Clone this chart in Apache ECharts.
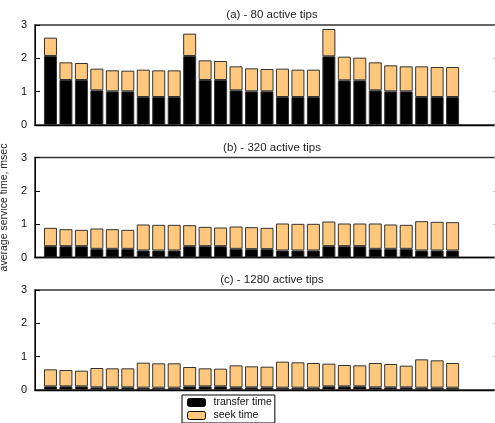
<!DOCTYPE html>
<html>
<head>
<meta charset="utf-8">
<script src="https://cdn.jsdelivr.net/npm/echarts@6/dist/echarts.min.js"></script>
<style>html,body{margin:0;padding:0;background:#fff}#c{width:495px;height:423px}</style>
</head>
<body>
<div id="c"></div>
<script>
var titles = ['(a) - 80 active tips', '(b) - 320 active tips', '(c) - 1280 active tips'];
var yTicks = [0, 1, 2, 3];
var slotCount = 31; // axis slots: slot 0 = left axis, bars in slots 1..27
var transferA = [2.07,1.35,1.35,1.04,1.01,1.01,0.84,0.84,0.84, 2.07,1.35,1.35,1.04,1.01,1.01,0.84,0.84,0.84, 2.06,1.34,1.34,1.04,1.01,1.01,0.84,0.84,0.84];
var seekA     = [0.55,0.53,0.51,0.65,0.63,0.62,0.82,0.80,0.80, 0.67,0.59,0.57,0.72,0.69,0.67,0.85,0.82,0.82, 0.82,0.71,0.68,0.84,0.78,0.75,0.92,0.90,0.90];
var transferB = [0.34,0.34,0.34,0.26,0.26,0.26,0.21,0.21,0.21, 0.34,0.34,0.34,0.26,0.25,0.25,0.21,0.21,0.21, 0.34,0.34,0.34,0.26,0.26,0.26,0.21,0.21,0.21];
var seekB     = [0.55,0.51,0.49,0.61,0.59,0.57,0.78,0.77,0.77, 0.63,0.58,0.56,0.67,0.66,0.64,0.81,0.80,0.80, 0.74,0.68,0.68,0.76,0.73,0.72,0.88,0.86,0.85];
var transferC = [0.11,0.11,0.11,0.08,0.08,0.08,0.07,0.07,0.07, 0.11,0.11,0.11,0.08,0.08,0.08,0.07,0.07,0.07, 0.11,0.11,0.11,0.08,0.08,0.08,0.07,0.07,0.07];
var seekC     = [0.51,0.49,0.47,0.58,0.57,0.57,0.75,0.73,0.73, 0.58,0.54,0.53,0.66,0.63,0.62,0.78,0.76,0.74, 0.68,0.64,0.63,0.73,0.70,0.65,0.85,0.82,0.74];
var seriesNames = ['transfer time', 'seek time'];
var yLabel = 'average service time, msec';

var panels = [[transferA, seekA], [transferB, seekB], [transferC, seekC]];
var tops = [25, 157.5, 290];
var font = 'Liberation Sans, Arial, Helvetica, sans-serif';
var colors = ['#000000', '#FFC87C'];
var cats = [];
for (var s = 0; s < slotCount; s++) cats.push(String(s));

var grids = [], xAxes = [], yAxes = [], series = [], titleOpts = [];
panels.forEach(function (p, i) {
  grids.push({left: 35, top: tops[i], width: 464, height: 100, show: true, borderColor: '#333', borderWidth: 1.6,
    containLabel: false, outerBoundsMode: 'none'});
  xAxes.push({type: 'category', gridIndex: i, data: cats, boundaryGap: false,
    axisLine: {show: true, onZero: false, lineStyle: {color: '#000', width: 1.4}},
    axisTick: {show: false}, axisLabel: {show: false}, splitLine: {show: false}});
  yAxes.push({type: 'value', gridIndex: i, min: yTicks[0], max: yTicks[yTicks.length - 1], interval: 1,
    axisLine: {show: true, lineStyle: {color: '#000', width: 1}},
    axisTick: {show: true, inside: true, length: 5, lineStyle: {color: '#000'}},
    axisLabel: {show: true, color: '#111', fontSize: 11, fontFamily: font, margin: 8},
    splitLine: {show: false},
    name: i === 1 ? yLabel : '', nameLocation: 'middle', nameGap: 24, nameRotate: 90,
    nameTextStyle: {color: '#222', fontSize: 10.5, fontFamily: font}});
  yAxes.push({type: 'value', gridIndex: i, position: 'right', min: yTicks[0], max: yTicks[yTicks.length - 1], interval: 1,
    axisLine: {show: false}, axisTick: {show: true, inside: true, length: 5, lineStyle: {color: '#999'}},
    axisLabel: {show: false}, splitLine: {show: false}});
  titleOpts.push({text: titles[i], left: 267, top: tops[i] - 21, textAlign: 'center',
    textStyle: {fontSize: 11.5, fontWeight: 'normal', color: '#222', fontFamily: font}});
  p.forEach(function (arr, k) {
    var d = ['-'];
    arr.forEach(function (v) { d.push(v); });
    while (d.length < slotCount) d.push('-');
    series.push({
      name: seriesNames[k], type: 'bar', xAxisIndex: i, yAxisIndex: i * 2, stack: 's' + i,
      barWidth: 13,
      itemStyle: {color: colors[k], borderColor: '#333', borderWidth: 1},
      data: d
    });
  });
});

var chart = echarts.init(document.getElementById('c'), null, {renderer: 'canvas'});
chart.setOption({
  animation: false,
  title: titleOpts,
  grid: grids,
  xAxis: xAxes,
  yAxis: yAxes,
  legend: {
    data: seriesNames, left: 182, top: 395, orient: 'vertical', itemWidth: 18, itemHeight: 8, itemGap: 2,
    padding: [2, 3, 2, 5], borderColor: '#000', borderWidth: 1, selectedMode: false,
    textStyle: {fontSize: 10.5, lineHeight: 11, color: '#111', fontFamily: font, padding: [0, 0, 0, 3]},
    itemStyle: {borderColor: '#000', borderWidth: 1}
  },
  series: series
});
</script>
</body>
</html>
